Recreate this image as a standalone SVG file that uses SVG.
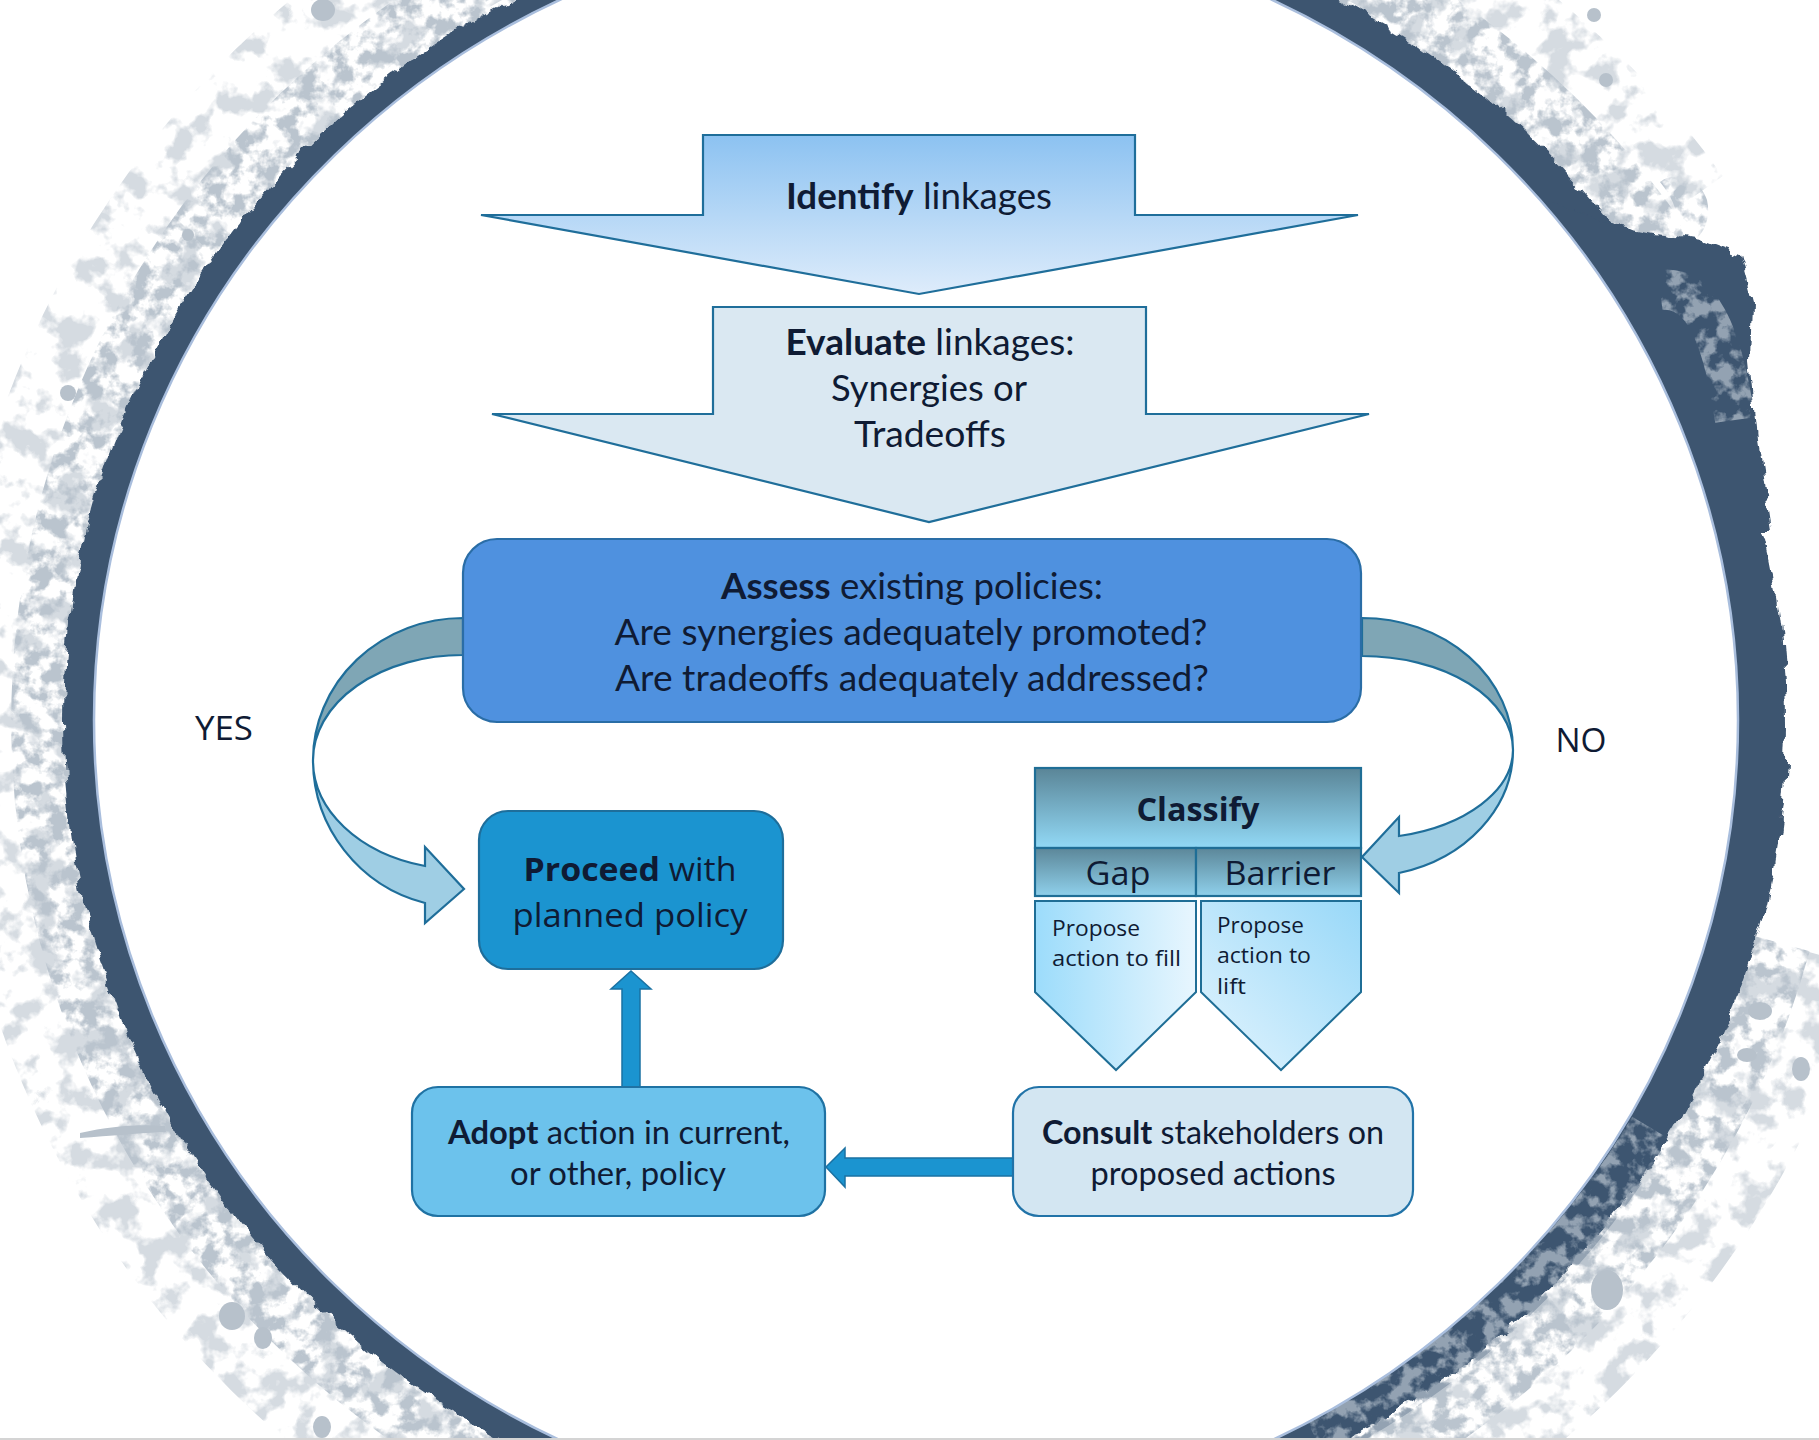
<svg xmlns="http://www.w3.org/2000/svg" width="1819" height="1440" viewBox="0 0 1819 1440">
<style>
.tc{font-family:Lato,"Open Sans",sans-serif;fill:#0F1B34;}
.ts{font-family:"Open Sans","Noto Sans",sans-serif;fill:#0F1B34;}
.b{font-weight:700}
.edge{stroke:#1F6E9A;stroke-width:2.2;stroke-linejoin:miter}
.spot{fill:#B7C1CB}
</style>
<defs>
<linearGradient id="gIdentify" x1="0" y1="0" x2="0" y2="1">
<stop offset="0" stop-color="#8CC2F1"/><stop offset="1" stop-color="#DEECFB"/>
</linearGradient>
<linearGradient id="gHead" x1="0" y1="0" x2="0" y2="1">
<stop offset="0" stop-color="#5A8597"/><stop offset="1" stop-color="#92D9F6"/>
</linearGradient>
<linearGradient id="gRow" x1="0" y1="0" x2="0" y2="1">
<stop offset="0" stop-color="#5C8799"/><stop offset="1" stop-color="#8FD0EB"/>
</linearGradient>
<linearGradient id="gPentL" x1="0" y1="0" x2="1" y2="0">
<stop offset="0" stop-color="#9CDCFB"/><stop offset="1" stop-color="#E8F6FE"/>
</linearGradient>
<linearGradient id="gPentR" x1="1" y1="0" x2="0" y2="1">
<stop offset="0" stop-color="#98D8F8"/><stop offset="1" stop-color="#E2F4FE"/>
</linearGradient>
<filter id="rough" filterUnits="userSpaceOnUse" x="-50" y="-50" width="1919" height="1540">
<feTurbulence type="fractalNoise" baseFrequency="0.05" numOctaves="3" seed="2" result="t"/>
<feDisplacementMap in="SourceGraphic" in2="t" scale="14" xChannelSelector="R" yChannelSelector="G"/>
</filter>
<filter id="speckDense" filterUnits="userSpaceOnUse" x="0" y="0" width="1819" height="1440">
<feTurbulence type="fractalNoise" baseFrequency="0.06" numOctaves="4" seed="5" result="t"/>
<feColorMatrix in="t" type="matrix" values="0 0 0 0 0  0 0 0 0 0  0 0 0 0 0  5 0 0 0 -2.2" result="a"/>
<feComposite in="SourceGraphic" in2="a" operator="in"/>
</filter>
<filter id="speckSparse" filterUnits="userSpaceOnUse" x="0" y="0" width="1819" height="1440">
<feTurbulence type="fractalNoise" baseFrequency="0.035" numOctaves="4" seed="11" result="t"/>
<feColorMatrix in="t" type="matrix" values="0 0 0 0 0  0 0 0 0 0  0 0 0 0 0  7 0 0 0 -3.5" result="a"/>
<feComposite in="SourceGraphic" in2="a" operator="in"/>
</filter>
</defs>

<rect x="0" y="0" width="1819" height="1440" fill="#FFFFFF"/>

<g id="background">
<g fill="none" stroke="#D5DBE1" stroke-width="120" filter="url(#speckSparse)">
<path d="M1809,952 A915,890 0 0 1 1382,1493"/>
<path d="M467,1493 A915,890 0 0 1 538,-85"/>
<path d="M1312,-85 A915,890 0 0 1 1674,211"/>
</g>
<g fill="none" stroke="#BAC4CE" stroke-width="70" filter="url(#speckDense)">
<path d="M1776,942 A880,852 0 0 1 1339,1474"/>
<path d="M513,1474 A880,852 0 0 1 596,-68"/>
<path d="M1256,-68 A880,852 0 0 1 1688,296"/>
</g>
<ellipse cx="925" cy="722" rx="862" ry="823" fill="#3D5570" filter="url(#rough)"/>
<path d="M1540,200 L1600,222 L1650,232 L1700,240 L1740,255 L1752,300 L1750,360 L1758,440 L1772,530 L1700,530 L1640,380 L1560,260 Z" fill="#3D5570" filter="url(#rough)"/>
<g fill="none" stroke="#93A2B2" filter="url(#speckDense)">
<path d="M1651,1128 A842,815 0 0 1 1317,1441" stroke-width="44"/>
<path d="M1660,290 C1700,285 1722,330 1735,420" stroke-width="40"/>
</g>
<path d="M1660,182 C1675,170 1700,178 1707,200 C1711,218 1704,234 1694,240 L1670,234 C1682,220 1676,202 1660,182 Z" fill="#BCC6D0" filter="url(#speckDense)"/>
<ellipse cx="916" cy="720" rx="822" ry="799" fill="#FFFFFF" stroke="#A9BEDD" stroke-width="2.5"/>
<circle class="spot" cx="68" cy="393" r="8"/>
<circle class="spot" cx="1594" cy="15" r="7"/>
<circle class="spot" cx="1606" cy="80" r="7"/>
<circle class="spot" cx="188" cy="235" r="6"/>
<ellipse class="spot" cx="323" cy="10" rx="12" ry="11"/>
<ellipse class="spot" cx="1760" cy="1011" rx="12" ry="9"/>
<ellipse class="spot" cx="1747" cy="1055" rx="10" ry="7"/>
<ellipse class="spot" cx="1801" cy="1069" rx="9" ry="12"/>
<ellipse class="spot" cx="1607" cy="1290" rx="16" ry="20"/>
<ellipse class="spot" cx="232" cy="1316" rx="13" ry="14"/>
<ellipse class="spot" cx="263" cy="1338" rx="9" ry="11"/>
<ellipse class="spot" cx="322" cy="1427" rx="9" ry="11"/>
<path d="M80,1133 C110,1126 140,1124 165,1126 L166,1132 C140,1133 110,1136 80,1138 Z" class="spot"/>
<line x1="0" y1="1439" x2="1819" y2="1439" stroke="#D4D4D4" stroke-width="2"/>
</g>

<g id="connectors">
<g id="conn-yes">
<path class="edge" fill="#9FCEE4" d="M313,760 A150,148 0 0 0 425,903 L425,923 L464,889 L425,847 L425,866 A150,109 0 0 1 313,760 Z"/>
<path class="edge" fill="#7FA6B5" d="M463,618 A150,142 0 0 0 313,760 A150,105 0 0 1 463,655 Z"/>
</g>
<g id="conn-no">
<path class="edge" fill="#9FCEE4" d="M1513,750 A151,127 0 0 1 1399,873 L1399,893 L1362,857 L1399,817 L1399,836 A151,89 0 0 0 1513,750 Z"/>
<path class="edge" fill="#7FA6B5" d="M1362,618 A151,132 0 0 1 1513,750 A151,94 0 0 0 1362,656 Z"/>
</g>
<path id="conn-adopt-proceed" fill="#1B94D0" stroke="#1A72A3" stroke-width="1.5" d="M622,1088 L622,989 L611,989 L631,971 L651,989 L640,989 L640,1088 Z"/>
<path id="conn-consult-adopt" fill="#1B94D0" stroke="#1A72A3" stroke-width="1.5" d="M1014,1158 L845,1158 L845,1148 L826,1167 L845,1187 L845,1176 L1014,1176 Z"/>
</g>

<g id="node-identify">
<path class="edge" fill="url(#gIdentify)" d="M703,135 L1135,135 L1135,215 L1358,215 L919,294 L481,215 L703,215 Z"/>
<text class="tc" x="919" y="209" font-size="36" text-anchor="middle" textLength="266" lengthAdjust="spacingAndGlyphs"><tspan class="b">Identify</tspan> linkages</text>
</g>

<g id="node-evaluate">
<path class="edge" fill="#DAE8F2" d="M713,307 L1146,307 L1146,414 L1369,414 L929,522 L492,414 L713,414 Z"/>
<text class="tc" x="930" y="355" font-size="36" text-anchor="middle" textLength="289" lengthAdjust="spacingAndGlyphs"><tspan class="b">Evaluate</tspan> linkages:</text>
<text class="tc" x="929" y="401" font-size="36" text-anchor="middle" textLength="196" lengthAdjust="spacingAndGlyphs">Synergies or</text>
<text class="tc" x="930" y="447" font-size="36" text-anchor="middle" textLength="152" lengthAdjust="spacingAndGlyphs">Tradeoffs</text>
</g>

<g id="node-assess">
<rect x="463" y="539" width="898" height="183" rx="34" fill="#4F91DF" stroke="#2A6DA6" stroke-width="2.2"/>
<text class="tc" x="912" y="599" font-size="36" text-anchor="middle" textLength="382" lengthAdjust="spacingAndGlyphs"><tspan class="b">Assess</tspan> existing policies:</text>
<text class="tc" x="911" y="645" font-size="36" text-anchor="middle" textLength="593" lengthAdjust="spacingAndGlyphs">Are synergies adequately promoted?</text>
<text class="tc" x="912" y="691" font-size="36" text-anchor="middle" textLength="594" lengthAdjust="spacingAndGlyphs">Are tradeoffs adequately addressed?</text>
</g>

<g id="node-proceed">
<rect x="479" y="811" width="304" height="158" rx="29" fill="#1B94D0" stroke="#1E6E9B" stroke-width="2.2"/>
<text class="ts" x="630" y="881" font-size="33" text-anchor="middle" textLength="213" lengthAdjust="spacingAndGlyphs"><tspan class="b">Proceed</tspan> with</text>
<text class="ts" x="630" y="927" font-size="33" text-anchor="middle" textLength="235" lengthAdjust="spacingAndGlyphs">planned policy</text>
</g>

<g id="node-classify">
<rect x="1035" y="768" width="326" height="80" fill="url(#gHead)" stroke="#1F6E96" stroke-width="2.2"/>
<rect x="1035" y="848" width="161" height="48" fill="url(#gRow)" stroke="#1F6E96" stroke-width="2.2"/>
<rect x="1196" y="848" width="165" height="48" fill="url(#gRow)" stroke="#1F6E96" stroke-width="2.2"/>
<text class="ts b" x="1198" y="821" font-size="33" text-anchor="middle" textLength="123" lengthAdjust="spacingAndGlyphs">Classify</text>
<text class="ts" x="1118" y="885" font-size="33" text-anchor="middle" textLength="65" lengthAdjust="spacingAndGlyphs">Gap</text>
<text class="ts" x="1280" y="885" font-size="33" text-anchor="middle" textLength="111" lengthAdjust="spacingAndGlyphs">Barrier</text>
</g>

<g id="node-propose-gap">
<path fill="url(#gPentL)" stroke="#1F6E96" stroke-width="2" d="M1035,901 L1196,901 L1196,992 L1116,1070 L1035,992 Z"/>
<text class="ts" x="1052" y="936" font-size="22" textLength="88" lengthAdjust="spacingAndGlyphs">Propose</text>
<text class="ts" x="1052" y="966" font-size="22" textLength="129" lengthAdjust="spacingAndGlyphs">action to fill</text>
</g>

<g id="node-propose-barrier">
<path fill="url(#gPentR)" stroke="#1F6E96" stroke-width="2" d="M1201,901 L1361,901 L1361,992 L1281,1070 L1201,992 Z"/>
<text class="ts" x="1217" y="933" font-size="22" textLength="87" lengthAdjust="spacingAndGlyphs">Propose</text>
<text class="ts" x="1217" y="963" font-size="22" textLength="94" lengthAdjust="spacingAndGlyphs">action to</text>
<text class="ts" x="1217" y="994" font-size="22" textLength="29" lengthAdjust="spacingAndGlyphs">lift</text>
</g>

<g id="node-adopt">
<rect x="412" y="1087" width="413" height="129" rx="26" fill="#6CC2EC" stroke="#1F72A3" stroke-width="2.2"/>
<text class="tc" x="619" y="1144" font-size="32" text-anchor="middle" textLength="342" lengthAdjust="spacingAndGlyphs"><tspan class="b">Adopt</tspan> action in current,</text>
<text class="tc" x="618" y="1185" font-size="32" text-anchor="middle" textLength="216" lengthAdjust="spacingAndGlyphs">or other, policy</text>
</g>

<g id="node-consult">
<rect x="1013" y="1087" width="400" height="129" rx="26" fill="#D3E6F2" stroke="#2173A8" stroke-width="2.2"/>
<text class="tc" x="1213" y="1144" font-size="32" text-anchor="middle" textLength="342" lengthAdjust="spacingAndGlyphs"><tspan class="b">Consult</tspan> stakeholders on</text>
<text class="tc" x="1213" y="1185" font-size="32" text-anchor="middle" textLength="245" lengthAdjust="spacingAndGlyphs">proposed actions</text>
</g>

<g id="label-yes"><text class="ts" x="224" y="740" font-size="33" text-anchor="middle" textLength="58" lengthAdjust="spacingAndGlyphs">YES</text></g>
<g id="label-no"><text class="ts" x="1581" y="752" font-size="33" text-anchor="middle" textLength="51" lengthAdjust="spacingAndGlyphs">NO</text></g>
</svg>
